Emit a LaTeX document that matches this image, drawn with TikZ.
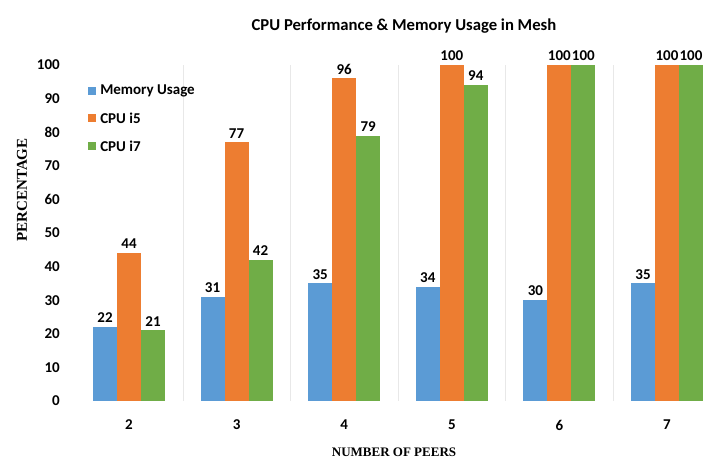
\documentclass[tikz,border=0pt]{standalone}
\usepackage{fontspec}
\setmainfont{Carlito}
\newfontfamily\axisfont{Liberation Serif}
\usepackage{tikz}
\usetikzlibrary{positioning}
\definecolor{memblue}{RGB}{91,155,213}
\definecolor{cpuorange}{RGB}{237,125,49}
\definecolor{cpugreen}{RGB}{112,173,71}
\definecolor{gridgray}{RGB}{232,232,232}

\begin{document}
\begin{tikzpicture}[x=0.75pt,y=0.75pt,
    val/.style={font=\fontsize{11.25}{13}\selectfont\bfseries,anchor=south,inner sep=0pt,yshift=3pt},
    tick/.style={font=\fontsize{11.25}{13}\selectfont\bfseries,anchor=east,inner sep=0pt},
    cat/.style={font=\fontsize{11.25}{13}\selectfont\bfseries,inner sep=0pt},
    legtext/.style={font=\fontsize{11.25}{13}\selectfont\bfseries,anchor=west,inner sep=0pt},
    axtitle/.style={font=\axisfont\bfseries,inner sep=0pt}]
        % Parameters
        \def\base{61}
        \def\ys{3.36}
        \def\bw{24}
        \def\gap{107.6}
        \useasboundingbox (0,0) rectangle (708,462);
        % Title
        \node[font=\fontsize{12.5}{15}\selectfont\bfseries] (title) at (404,436) {CPU Performance \& Memory Usage in Mesh};
        % Separators
        \foreach \k in {1,...,5}
            \draw[gridgray] ({129+(\k-0.5)*\gap},\base) -- ++(0,{100*\ys});
        % Y ticks
        \foreach \v in {0,10,...,100}
            \node[tick] (t\v) at (60,{\base+\v*\ys}) {\v};
        % Bars and labels
        \foreach \n/\m/\a/\b [count=\k from 0] in {2/22/44/21,3/31/77/42,4/35/96/79,5/34/100/94,6/30/100/100,7/35/100/100} {
            \pgfmathsetmacro{\cx}{129+\k*\gap}
            \fill[memblue] ({\cx-1.5*\bw},\base) rectangle ({\cx-0.5*\bw},{\base+\m*\ys});
            \fill[cpuorange] ({\cx-0.5*\bw},\base) rectangle ({\cx+0.5*\bw},{\base+\a*\ys});
            \fill[cpugreen] ({\cx+0.5*\bw},\base) rectangle ({\cx+1.5*\bw},{\base+\b*\ys});
            \node[val] (m\n) at ({\cx-\bw},{\base+\m*\ys}) {\m};
            \node[val] (a\n) at (\cx,{\base+\a*\ys}) {\a};
            \node[val] (b\n) at ({\cx+\bw},{\base+\b*\ys}) {\b};
            \node[cat] (c\n) at (\cx,37) {\n};
        }
        % Legend
        \fill[memblue] (88,367) rectangle ++(8,8);
        \fill[cpuorange] (88,340) rectangle ++(8,8);
        \fill[cpugreen] (88,312) rectangle ++(8,8);
        \node[legtext] (lmem) at (100,371) {Memory Usage};
        \node[legtext] (li5) at (100,344) {CPU i5};
        \node[legtext] (li7) at (100,316) {CPU i7};
        % Axis titles
        \node[axtitle,font=\axisfont\bfseries\fontsize{11.25}{13}\selectfont,rotate=90] (ylab) at (22,272) {PERCENTAGE};
        \node[axtitle,font=\axisfont\bfseries\fontsize{9.75}{12}\selectfont] (xlab) at (394,10) {NUMBER OF PEERS};
    \end{tikzpicture}
\end{document}
